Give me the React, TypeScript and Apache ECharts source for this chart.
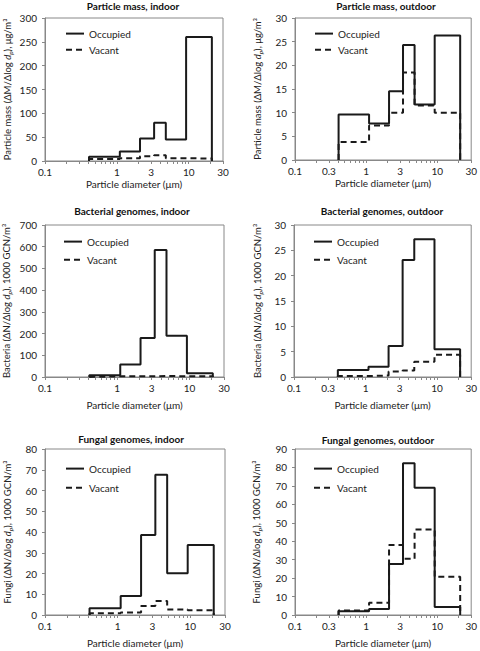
import React, { useEffect, useRef } from "react";
import * as echarts from "echarts";

// ---- data ----
const binEdges = [0.41, 1.1, 2.1, 3.3, 4.8, 9.2, 21];

const pmIndoorOccupied = [9, 20, 47, 80, 45, 260];
const pmIndoorVacant = [4, 6, 10, 12, 6, 5];
const pmOutdoorOccupied = [9.6, 7.7, 14.5, 24.3, 11.7, 26.3];
const pmOutdoorVacant = [3.8, 7.3, 10, 18.5, 11.5, 10];
const bacIndoorOccupied = [8, 58, 180, 585, 190, 17];
const bacIndoorVacant = [3, 3, 3, 5, 3, 4];
const bacOutdoorOccupied = [1.4, 2.0, 6.1, 23.1, 27.2, 5.5];
const bacOutdoorVacant = [0.2, 0.3, 1.1, 1.3, 3.0, 4.4];
const funIndoorOccupied = [3.2, 9.1, 38.6, 67.6, 20.1, 33.7];
const funIndoorVacant = [0.8, 1.2, 4.3, 6.7, 2.7, 2.3];
const funOutdoorOccupied = [2.0, 3.2, 27.7, 82.3, 69, 4.3];
const funOutdoorVacant = [2.5, 6.6, 38, 30.5, 46.3, 20.7];

const xLabelsLeft = [0.1, 1, 3, 10, 30];
const xLabelsRight = [0.1, 0.3, 1, 3, 10, 30];
const xTicks = [0.1, 0.2, 0.3, 0.4, 0.5, 0.6, 0.7, 0.8, 0.9, 1, 2, 3, 4, 5, 6, 7, 8, 9, 10, 20, 30];

const titles = [
  "Particle mass, indoor",
  "Particle mass, outdoor",
  "Bacterial genomes, indoor",
  "Bacterial genomes, outdoor",
  "Fungal genomes, indoor",
  "Fungal genomes, outdoor",
];
const yNamePrefixes = [
  "Particle mass (ΔM/Δlog ",
  "Particle mass (ΔM/Δlog ",
  "Bacteria (ΔN/Δlog ",
  "Bacteria (ΔN/Δlog ",
  "Fungi (ΔN/Δlog ",
  "Fungi (ΔN/Δlog ",
];
const yNameSuffixes = [
  "), μg/m³",
  "), μg/m³",
  "), 1000 GCN/m³",
  "), 1000 GCN/m³",
  "), 1000 GCN/m³",
  "), 1000 GCN/m³",
];
const yMaxes = [300, 30, 700, 30, 80, 90];
const yIntervals = [50, 5, 100, 5, 10, 10];
const occupiedSets = [pmIndoorOccupied, pmOutdoorOccupied, bacIndoorOccupied, bacOutdoorOccupied, funIndoorOccupied, funOutdoorOccupied];
const vacantSets = [pmIndoorVacant, pmOutdoorVacant, bacIndoorVacant, bacOutdoorVacant, funIndoorVacant, funOutdoorVacant];

// ---- layout ----
const layouts = [
  { grid: { left: 45, top: 18, width: 178, height: 143 }, tx: 133, ty: 6, lg: { left: 65, top: 28, gap: 5 }, yGap: 31, xGap: 18 },
  { grid: { left: 295, top: 18, width: 177, height: 142 }, tx: 386, ty: 6, lg: { left: 314, top: 28, gap: 5 }, yGap: 31, xGap: 18 },
  { grid: { left: 44, top: 225, width: 180, height: 152 }, tx: 132, ty: 211, lg: { left: 63, top: 236, gap: 7 }, yGap: 32, xGap: 23 },
  { grid: { left: 294, top: 225, width: 178, height: 152 }, tx: 382, ty: 211, lg: { left: 313, top: 236, gap: 7 }, yGap: 30, xGap: 23 },
  { grid: { left: 45, top: 449, width: 180, height: 166 }, tx: 131, ty: 439, lg: { left: 65, top: 463, gap: 8 }, yGap: 31, xGap: 23 },
  { grid: { left: 295, top: 449, width: 177, height: 166 }, tx: 378, ty: 440, lg: { left: 313, top: 463, gap: 8 }, yGap: 32, xGap: 23 },
];

const FONT = 'Lato, "Open Sans", "DejaVu Sans", sans-serif';
const TEXT = "#222";
const AXIS = "#888";
const lg10 = (v: number) => Math.log10(v);

function outline(edges: number[], values: number[]) {
  const pts: number[][] = [[lg10(edges[0]), 0]];
  values.forEach((v, i) => {
    pts.push([lg10(edges[i]), v]);
    pts.push([lg10(edges[i + 1]), v]);
  });
  pts.push([lg10(edges[edges.length - 1]), 0]);
  return pts;
}

function fmtX(v: number) {
  return String(Number(Math.pow(10, v).toPrecision(2)));
}

export default function App() {
  const ref = useRef<HTMLDivElement>(null);
  useEffect(() => {
    if (!ref.current) return;
    const chart = echarts.init(ref.current, null, { renderer: "svg" });
    const rich = {
      n: { fontSize: 9.5, fontFamily: FONT, color: TEXT, lineHeight: 14 },
      i: { fontSize: 9.5, fontFamily: FONT, color: TEXT, fontStyle: "italic", lineHeight: 14 },
      s: { fontSize: 6.5, fontFamily: FONT, color: TEXT, fontStyle: "italic", lineHeight: 6, verticalAlign: "bottom" },
    };
    const option: any = {
      animation: false,
      backgroundColor: "#fff",
      grid: layouts.map((l) => ({ ...l.grid, show: true, borderColor: AXIS, borderWidth: 1, backgroundColor: "transparent" })),
      xAxis: layouts.map((l, i) => ({
        type: "value",
        gridIndex: i,
        min: -1,
        max: lg10(30),
        splitLine: { show: false },
        axisLine: { show: true, onZero: false, lineStyle: { color: AXIS, width: 1 } },
        axisTick: { show: true, customValues: xTicks.map(lg10), length: 3, lineStyle: { color: AXIS } },
        axisLabel: {
          customValues: (i % 2 === 0 ? xLabelsLeft : xLabelsRight).map(lg10),
          formatter: (v: number) => fmtX(v),
          margin: 6,
          fontSize: 10,
          fontFamily: FONT,
          color: TEXT,
        },
        name: "Particle diameter (μm)",
        nameLocation: "middle",
        nameGap: l.xGap,
        nameTextStyle: { fontSize: 10, fontFamily: FONT, color: TEXT },
      })),
      yAxis: layouts.map((l, i) => ({
        type: "value",
        gridIndex: i,
        min: 0,
        max: yMaxes[i],
        interval: yIntervals[i],
        splitLine: { show: false },
        axisLine: { show: true, onZero: false, lineStyle: { color: AXIS, width: 1 } },
        axisTick: { show: true, length: 3, lineStyle: { color: AXIS } },
        axisLabel: { margin: 8, fontSize: 10, fontFamily: FONT, color: TEXT },
        name: `{n|${yNamePrefixes[i]}}{i|d}{s|p}{n|${yNameSuffixes[i]}}`,
        nameLocation: "middle",
        nameGap: l.yGap,
        nameTextStyle: { rich },
      })),
      legend: layouts.map((l) => ({
        data: ["Occupied", "Vacant"],
        orient: "vertical",
        left: l.lg.left,
        top: l.lg.top,
        itemWidth: 18,
        itemHeight: 14,
        itemGap: l.lg.gap,
        padding: 0,
        selectedMode: false,
        itemStyle: { opacity: 0 },
        textStyle: { fontSize: 10, fontFamily: FONT, color: TEXT },
      })),
      graphic: layouts.map((l, i) => ({
        type: "text",
        x: l.tx,
        y: l.ty,
        style: {
          text: titles[i],
          fontSize: 10,
          fontWeight: "bold",
          fontFamily: FONT,
          fill: "#111",
          align: "center",
          verticalAlign: "middle",
        },
      })),
      series: layouts.flatMap((l, i) => [
        {
          type: "line",
          name: "Occupied",
          xAxisIndex: i,
          yAxisIndex: i,
          data: outline(binEdges, occupiedSets[i]),
          symbol: "none",
          lineStyle: { color: "#1a1a1a", width: 2, type: "solid" },
          itemStyle: { color: "#1a1a1a" },
          z: 3,
        },
        {
          type: "line",
          name: "Vacant",
          xAxisIndex: i,
          yAxisIndex: i,
          data: outline(binEdges, vacantSets[i]),
          symbol: "none",
          lineStyle: { color: "#1a1a1a", width: 2, type: [6, 4] },
          itemStyle: { color: "#1a1a1a" },
          z: 4,
        },
      ]),
    };
    chart.setOption(option);
    return () => chart.dispose();
  }, []);
  return (
    <div
      ref={ref}
      style={{ position: "fixed", left: 0, top: 0, width: 480, height: 651, background: "#fff" }}
    />
  );
}
